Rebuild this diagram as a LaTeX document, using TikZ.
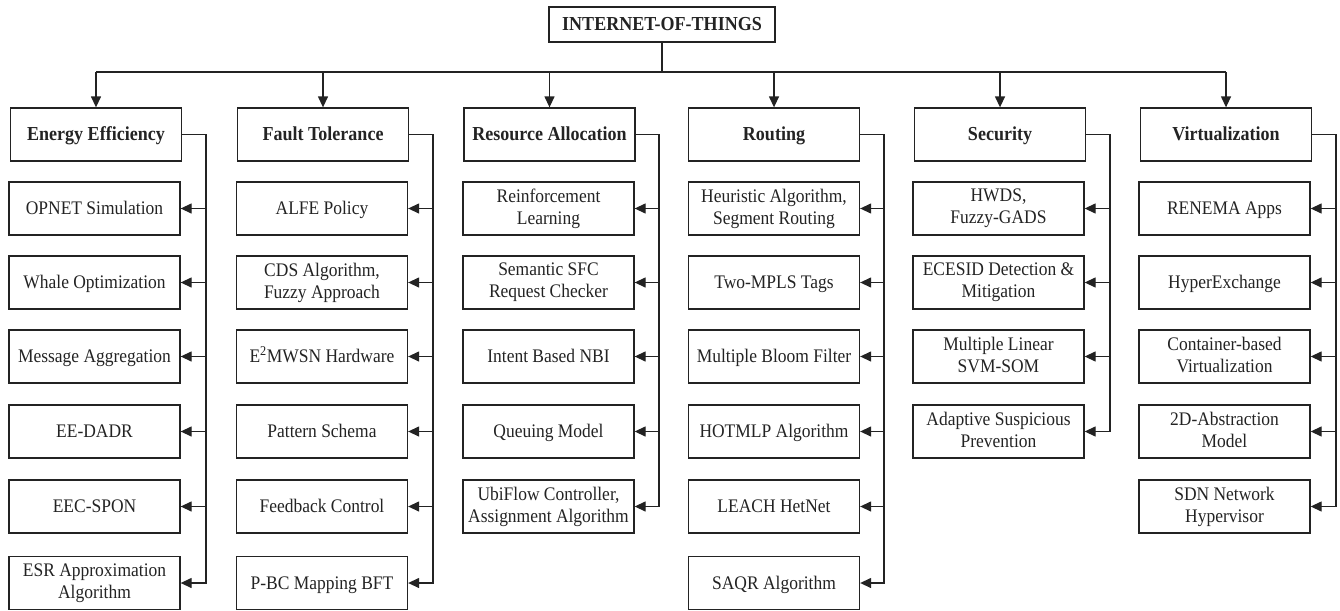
\documentclass[tikz,border=0pt]{standalone}
\usepackage{fontspec}
\setmainfont{Liberation Serif}[FakeStretch=0.91]
\usetikzlibrary{arrows.meta}
\definecolor{ink}{RGB}{35,35,35}
\newcommand{\vstrut}{\rule[-3.6pt]{0pt}{20pt}}
\begin{document}
\begin{tikzpicture}[x=1pt,y=-1pt,
  box/.style={draw=ink, line width=1.3pt, minimum width=171pt, minimum height=53pt, inner sep=0pt, align=center, text=ink, font=\fontsize{19.2}{22}\selectfont, execute at begin node=\vstrut, execute at end node=\vstrut},
  cat/.style={box, font=\fontsize{19.8}{22}\selectfont\bfseries},
  topbox/.style={box, minimum width=226pt, minimum height=35pt, font=\fontsize{19.8}{22}\selectfont\bfseries},
  link/.style={draw=ink, line width=1.3pt},
  arr/.style={link, -{Triangle[length=11pt,width=10pt]}}
]
\useasboundingbox (0,0) rectangle (1340,610);

\node[topbox] (top) at (662,24.5) {INTERNET-OF-THINGS};
\coordinate (hub) at (662,72);

% category boxes
\node[cat] (E) at (96,134.5) {Energy Efficiency};
\node[cat] (F) at (323,134.5) {Fault Tolerance};
\node[cat] (R) at (549.5,134.5) {Resource Allocation};
\node[cat] (T) at (774,134.5) {Routing};
\node[cat] (S) at (1000,134.5) {Security};
\node[cat] (V) at (1226,134.5) {Virtualization};

% Energy
\node[box] (e1) at (94.5,208.5) {OPNET Simulation};
\node[box] (e2) at (94.5,282.5) {Whale Optimization};
\node[box] (e3) at (94.5,356.5) {Message Aggregation};
\node[box] (e4) at (94.5,431.5) {EE-DADR};
\node[box] (e5) at (94.5,506.5) {EEC-SPON};
\node[box] (e6) at (94.5,583) {ESR Approximation\\Algorithm};
% Fault
\node[box] (f1) at (322,208.5) {ALFE Policy};
\node[box] (f2) at (322,282.5) {CDS Algorithm,\\Fuzzy Approach};
\node[box] (f3) at (322,356.5) {E\textsuperscript{2}MWSN Hardware};
\node[box] (f4) at (322,431.5) {Pattern Schema};
\node[box] (f5) at (322,506.5) {Feedback Control};
\node[box] (f6) at (322,583) {P-BC Mapping BFT};
% Resource
\node[box] (r1) at (548.5,208.5) {Reinforcement\\Learning};
\node[box] (r2) at (548.5,282.5) {Semantic SFC\\Request Checker};
\node[box] (r3) at (548.5,356.5) {Intent Based NBI};
\node[box] (r4) at (548.5,431.5) {Queuing Model};
\node[box] (r5) at (548.5,506.5) {UbiFlow Controller,\\Assignment Algorithm};
% Routing
\node[box] (t1) at (774,208.5) {Heuristic Algorithm,\\Segment Routing};
\node[box] (t2) at (774,282.5) {Two-MPLS Tags};
\node[box] (t3) at (774,356.5) {Multiple Bloom Filter};
\node[box] (t4) at (774,431.5) {HOTMLP Algorithm};
\node[box] (t5) at (774,506.5) {LEACH HetNet};
\node[box] (t6) at (774,583) {SAQR Algorithm};
% Security
\node[box] (s1) at (998.5,208.5) {HWDS,\\Fuzzy-GADS};
\node[box] (s2) at (998.5,282.5) {ECESID Detection \&\\Mitigation};
\node[box] (s3) at (998.5,356.5) {Multiple Linear\\SVM-SOM};
\node[box] (s4) at (998.5,431.5) {Adaptive Suspicious\\Prevention};
% Virtualization
\node[box] (v1) at (1224.5,208.5) {RENEMA Apps};
\node[box] (v2) at (1224.5,282.5) {HyperExchange};
\node[box] (v3) at (1224.5,356.5) {Container-based\\Virtualization};
\node[box] (v4) at (1224.5,431.5) {2D-Abstraction\\Model};
\node[box] (v5) at (1224.5,506.5) {SDN Network\\Hypervisor};

% top connectors
\draw[link] (top.south) -- (hub);
\draw[link] (E.north |- hub) -- (V.north |- hub);
\foreach \c in {E,F,R,T,S,V}
  \draw[arr] (\c.north |- hub) -- (\c.north);

% bracket x positions
\coordinate (Ex) at (206,0);
\coordinate (Fx) at (433,0);
\coordinate (Rx) at (659,0);
\coordinate (Tx) at (884,0);
\coordinate (Sx) at (1110,0);
\coordinate (Vx) at (1336,0);

\draw[arr] (E.east) -- (E.east -| Ex) |- (e6.east);
\foreach \i in {1,...,5} \draw[arr] (e\i.east -| Ex) -- (e\i.east);
\draw[arr] (F.east) -- (F.east -| Fx) |- (f6.east);
\foreach \i in {1,...,5} \draw[arr] (f\i.east -| Fx) -- (f\i.east);
\draw[arr] (R.east) -- (R.east -| Rx) |- (r5.east);
\foreach \i in {1,...,4} \draw[arr] (r\i.east -| Rx) -- (r\i.east);
\draw[arr] (T.east) -- (T.east -| Tx) |- (t6.east);
\foreach \i in {1,...,5} \draw[arr] (t\i.east -| Tx) -- (t\i.east);
\draw[arr] (S.east) -- (S.east -| Sx) |- (s4.east);
\foreach \i in {1,...,3} \draw[arr] (s\i.east -| Sx) -- (s\i.east);
\draw[arr] (V.east) -- (V.east -| Vx) |- (v5.east);
\foreach \i in {1,...,4} \draw[arr] (v\i.east -| Vx) -- (v\i.east);
\end{tikzpicture}
\end{document}
